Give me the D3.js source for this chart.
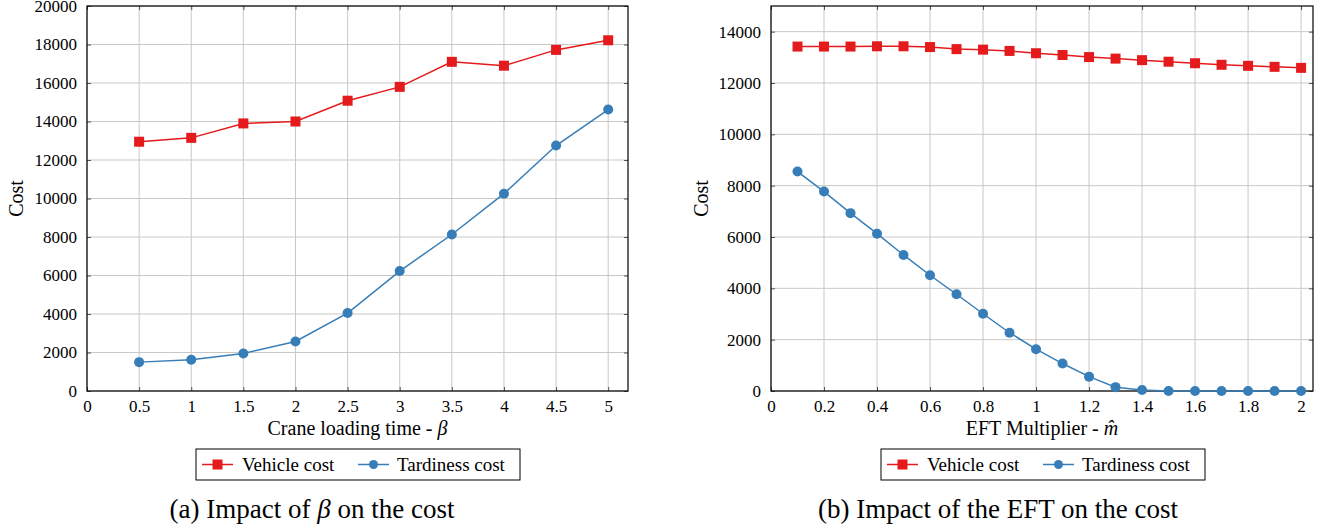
<!DOCTYPE html>
<html>
<head>
<meta charset="utf-8">
<script src="https://cdn.jsdelivr.net/npm/d3@7"></script>
<style>
  body { margin: 0; background: #fff; }
  svg text { font-family: "Liberation Serif", "DejaVu Serif", serif; fill: #000; }
  .grid line { stroke: #c8c8c8; stroke-width: 1; }
</style>
</head>
<body>
<div class="chart"></div>
<script>
// chart (a): beta
var betaX = [0.5, 1, 1.5, 2, 2.5, 3, 3.5, 4, 4.5, 5];
var betaVehicle = [12950, 13150, 13900, 14000, 15080, 15800, 17100, 16900, 17720, 18220];
var betaTardiness = [1500, 1620, 1950, 2570, 4050, 6230, 8130, 10250, 12750, 14620];
var betaXTicks = [0, 0.5, 1, 1.5, 2, 2.5, 3, 3.5, 4, 4.5, 5];
var betaYTicks = [0, 2000, 4000, 6000, 8000, 10000, 12000, 14000, 16000, 18000, 20000];

// chart (b): EFT multiplier
var eftX = [0.1, 0.2, 0.3, 0.4, 0.5, 0.6, 0.7, 0.8, 0.9, 1.0, 1.1, 1.2, 1.3, 1.4, 1.5, 1.6, 1.7, 1.8, 1.9, 2.0];
var eftVehicle = [13420, 13420, 13420, 13430, 13430, 13400, 13320, 13300, 13250, 13160, 13090, 13010, 12950, 12890, 12830, 12770, 12710, 12670, 12630, 12590];
var eftTardiness = [8550, 7770, 6930, 6130, 5300, 4510, 3770, 3010, 2270, 1630, 1070, 560, 150, 40, 0, 0, 0, 0, 0, 0];
var eftXTicks = [0, 0.2, 0.4, 0.6, 0.8, 1, 1.2, 1.4, 1.6, 1.8, 2];
var eftYTicks = [0, 2000, 4000, 6000, 8000, 10000, 12000, 14000];

var red = "#e41a1c";
var blue = "#377eb8";

var svg = d3.select(".chart")
	.append("svg")
	.attr("width", 1333)
	.attr("height", 529);

function drawPanel(opt) {
	var g = svg.append("g").attr("transform", "translate(" + opt.left + "," + opt.top + ")");
	var width = opt.width, height = opt.height;

	var x = d3.scaleLinear().domain(opt.xDomain).range([0, width]);
	var y = d3.scaleLinear().domain(opt.yDomain).range([height, 0]);

	// grid
	var grid = g.append("g").attr("class", "grid");
	grid.selectAll(".vx").data(opt.xTicks).enter().append("line")
		.attr("x1", d => x(d)).attr("x2", d => x(d))
		.attr("y1", 0).attr("y2", height);
	grid.selectAll(".hy").data(opt.yTicks).enter().append("line")
		.attr("x1", 0).attr("x2", width)
		.attr("y1", d => y(d)).attr("y2", d => y(d));

	// axes, ticks inside on all four sides
	var bottom = g.append("g").attr("transform", "translate(0," + height + ")")
		.call(d3.axisBottom(x).tickValues(opt.xTicks).tickSizeInner(-4).tickSizeOuter(0).tickPadding(9).tickFormat(d => String(d)));
	var top = g.append("g")
		.call(d3.axisTop(x).tickValues(opt.xTicks).tickSizeInner(-4).tickSizeOuter(0).tickFormat(""));
	var left = g.append("g")
		.call(d3.axisLeft(y).tickValues(opt.yTicks).tickSizeInner(-4).tickSizeOuter(0).tickPadding(10).tickFormat(d3.format("d")));
	var right = g.append("g").attr("transform", "translate(" + width + ",0)")
		.call(d3.axisRight(y).tickValues(opt.yTicks).tickSizeInner(-4).tickSizeOuter(0).tickFormat(""));
	[bottom, top, left, right].forEach(function(a) {
		a.select(".domain").remove();
		a.selectAll(".tick line").attr("stroke", "#555");
		a.selectAll("text").style("font-size", "17px").attr("fill", "#000");
	});

	g.append("rect").attr("width", width).attr("height", height)
		.attr("fill", "none").attr("stroke", "#000").attr("stroke-width", 1.2);

	var line = d3.line().x(d => x(d[0])).y(d => y(d[1]));
	var vData = opt.xs.map((v, i) => [v, opt.vehicle[i]]);
	var tData = opt.xs.map((v, i) => [v, opt.tardiness[i]]);

	g.append("path").datum(vData).attr("d", line)
		.attr("fill", "none").attr("stroke", red).attr("stroke-width", 1.5);
	g.selectAll(".sq").data(vData).enter().append("rect")
		.attr("x", d => x(d[0]) - 5).attr("y", d => y(d[1]) - 5)
		.attr("width", 10).attr("height", 10).attr("fill", red);

	g.append("path").datum(tData).attr("d", line)
		.attr("fill", "none").attr("stroke", blue).attr("stroke-width", 1.5);
	g.selectAll(".dot").data(tData).enter().append("circle")
		.attr("cx", d => x(d[0])).attr("cy", d => y(d[1]))
		.attr("r", 5).attr("fill", blue);

	// axis labels
	var xl = g.append("text")
		.attr("x", width / 2).attr("y", height + 44)
		.attr("text-anchor", "middle").style("font-size", "20px");
	xl.append("tspan").text(opt.xLabel);
	xl.append("tspan").style("font-style", "italic").text(opt.xSym);

	g.append("text")
		.attr("transform", "translate(" + opt.yLabelX + "," + (height / 2) + ") rotate(-90)")
		.attr("text-anchor", "middle").style("font-size", "20px")
		.text("Cost");

	// legend
	var lg = g.append("g").attr("transform", "translate(" + opt.legendX + "," + (height + 58) + ")");
	lg.append("rect").attr("width", 324).attr("height", 31)
		.attr("fill", "#fff").attr("stroke", "#000").attr("stroke-width", 1);
	lg.append("line").attr("x1", 6).attr("x2", 37).attr("y1", 15.5).attr("y2", 15.5)
		.attr("stroke", red).attr("stroke-width", 1.5);
	lg.append("rect").attr("x", 16.5).attr("y", 10.5).attr("width", 10).attr("height", 10).attr("fill", red);
	lg.append("text").attr("x", 46).attr("y", 21.5).style("font-size", "19px").text("Vehicle cost");
	lg.append("line").attr("x1", 162).attr("x2", 193).attr("y1", 15.5).attr("y2", 15.5)
		.attr("stroke", blue).attr("stroke-width", 1.5);
	lg.append("circle").attr("cx", 177.5).attr("cy", 15.5).attr("r", 4.5).attr("fill", blue);
	lg.append("text").attr("x", 201).attr("y", 21.5).style("font-size", "19px").text("Tardiness cost");

	// caption
	var cap = svg.append("text")
		.attr("x", opt.captionX).attr("y", 518)
		.attr("text-anchor", "middle").style("font-size", "27px");
	cap.append("tspan").text(opt.caption[0]);
	if (opt.caption.length > 1) {
		cap.append("tspan").style("font-style", "italic").text(opt.caption[1]);
		cap.append("tspan").text(opt.caption[2]);
	}
}

drawPanel({
	left: 87, top: 6, width: 541, height: 385,
	xDomain: [0, 5.19], yDomain: [0, 20000],
	xTicks: betaXTicks, yTicks: betaYTicks,
	xs: betaX, vehicle: betaVehicle, tardiness: betaTardiness,
	xLabel: "Crane loading time - ", xSym: "β",
	yLabelX: -64, legendX: 109,
	captionX: 312, caption: ["(a) Impact of ", "β", " on the cost"]
});

drawPanel({
	left: 771, top: 6, width: 542, height: 385,
	xDomain: [0, 2.045], yDomain: [0, 15000],
	xTicks: eftXTicks, yTicks: eftYTicks,
	xs: eftX, vehicle: eftVehicle, tardiness: eftTardiness,
	xLabel: "EFT Multiplier - ", xSym: "m̂",
	yLabelX: -63, legendX: 110,
	captionX: 998, caption: ["(b) Impact of the EFT on the cost"]
});
</script>
</body>
</html>
